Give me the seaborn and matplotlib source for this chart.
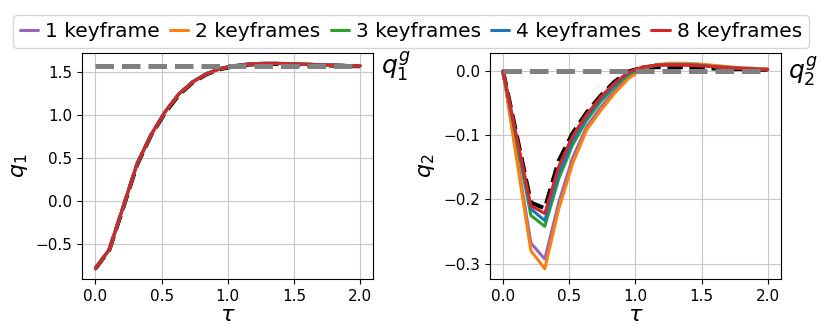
import numpy as np
import pandas as pd
import matplotlib
matplotlib.use('Agg')
import matplotlib.pyplot as plt
import seaborn as sns

# sample grid of the trajectories (20 knots on [0, 2])
tau = np.linspace(0, 2, 20)

labels = ['1 keyframe', '2 keyframes', '3 keyframes', '4 keyframes', '8 keyframes']
colors = ['#9467bd', '#ff7f0e', '#2ca02c', '#1f77b4', '#d62728']

q1_goal = 1.5708
q2_goal = 0.0

# reference trajectory (black dashed)
q1_ref = [-0.785, -0.565, -0.07, 0.43, 0.77, 1.03, 1.24, 1.385, 1.48, 1.54, 1.572, 1.59, 1.598, 1.598,
          1.594, 1.589, 1.584, 1.579, 1.575, 1.572]
q2_ref = [0.0, -0.102, -0.205, -0.214, -0.14, -0.097, -0.065, -0.039, -0.017, -0.001, 0.005, 0.006, 0.006,
          0.006, 0.005, 0.004, 0.003, 0.003, 0.002, 0.002]

# q1 for each keyframe count
q1_k1 = [-0.785, -0.56, -0.06, 0.44, 0.775, 1.04, 1.25, 1.39, 1.485, 1.545, 1.576, 1.594, 1.602, 1.603,
         1.6, 1.594, 1.588, 1.583, 1.579, 1.576]
q1_k2 = [-0.785, -0.56, -0.06, 0.44, 0.775, 1.04, 1.25, 1.39, 1.485, 1.545, 1.577, 1.595, 1.603, 1.604,
         1.601, 1.595, 1.589, 1.584, 1.58, 1.577]
q1_k3 = [-0.785, -0.56, -0.06, 0.44, 0.776, 1.041, 1.251, 1.392, 1.486, 1.546, 1.578, 1.596, 1.604, 1.604,
         1.601, 1.595, 1.589, 1.584, 1.58, 1.577]
q1_k4 = [-0.785, -0.56, -0.058, 0.442, 0.778, 1.043, 1.253, 1.394, 1.488, 1.548, 1.58, 1.598, 1.606, 1.606,
         1.602, 1.596, 1.59, 1.585, 1.58, 1.577]
q1_k8 = [-0.785, -0.56, -0.06, 0.44, 0.775, 1.04, 1.25, 1.39, 1.485, 1.545, 1.577, 1.595, 1.603, 1.603,
         1.6, 1.594, 1.588, 1.583, 1.579, 1.576]

# q2 for each keyframe count
q2_k1 = [0.0, -0.134, -0.268, -0.293, -0.205, -0.135, -0.087, -0.057, -0.031, -0.01, 0.004, 0.009, 0.011,
         0.011, 0.01, 0.008, 0.006, 0.005, 0.004, 0.003]
q2_k2 = [0.0, -0.14, -0.28, -0.308, -0.215, -0.144, -0.092, -0.062, -0.035, -0.012, 0.003, 0.01, 0.012,
         0.012, 0.011, 0.009, 0.007, 0.005, 0.004, 0.003]
q2_k3 = [0.0, -0.112, -0.225, -0.242, -0.168, -0.115, -0.077, -0.048, -0.025, -0.006, 0.005, 0.009, 0.01,
         0.01, 0.009, 0.007, 0.006, 0.004, 0.003, 0.002]
q2_k4 = [0.0, -0.107, -0.215, -0.233, -0.16, -0.108, -0.072, -0.044, -0.022, -0.004, 0.006, 0.009, 0.01,
         0.01, 0.009, 0.007, 0.005, 0.004, 0.003, 0.002]
q2_k8 = [0.0, -0.105, -0.21, -0.222, -0.149, -0.101, -0.068, -0.041, -0.019, -0.002, 0.006, 0.009, 0.009,
         0.009, 0.008, 0.007, 0.005, 0.004, 0.003, 0.002]

q1_runs = [q1_k1, q1_k2, q1_k3, q1_k4, q1_k8]
q2_runs = [q2_k1, q2_k2, q2_k3, q2_k4, q2_k8]

sns.set_style('ticks', rc={'text.color': 'black', 'axes.labelcolor': 'black',
                           'xtick.color': 'black', 'ytick.color': 'black',
                           'axes.edgecolor': 'black',
                           'xtick.major.size': 3.5, 'ytick.major.size': 3.5})
plt.rcParams['font.family'] = ['DejaVu Sans']
plt.rcParams['mathtext.fontset'] = 'dejavusans'

fig, axes = plt.subplots(1, 2, figsize=(8.22, 3.29), dpi=100)
fig.subplots_adjust(left=0.1, right=0.95, bottom=0.152, top=0.839, wspace=0.4)

panels = [(axes[0], q1_ref, q1_runs, q1_goal, '$q_1$', '$q_1^g$'),
          (axes[1], q2_ref, q2_runs, q2_goal, '$q_2$', '$q_2^g$')]

for ax, ref, runs, goal, ylab, glab in panels:
    ax.grid(True, color='#c8c8c8', linewidth=0.8)
    sns.lineplot(x=tau, y=ref, ax=ax, color='black', linewidth=3.0, linestyle='--', zorder=2)
    for vals, lab, c in zip(runs, labels, colors):
        sns.lineplot(x=tau, y=vals, ax=ax, color=c, linewidth=2.2, label=lab, zorder=3)
    sns.lineplot(x=[tau[0], tau[-1]], y=[goal, goal], ax=ax, color='gray', linewidth=3.6,
                 linestyle='--', zorder=4)
    ax.text(2.155, goal, glab, fontsize=18, va='center', ha='left')
    ax.set_xlabel(r'$\tau$', fontsize=16, labelpad=1)
    ax.set_ylabel(ylab, fontsize=16)
    ax.tick_params(labelsize=11)
    ax.set_xticks([0.0, 0.5, 1.0, 1.5, 2.0])
    ax.get_legend().remove()

axes[0].set_yticks([-0.5, 0.0, 0.5, 1.0, 1.5])
axes[1].set_yticks([-0.3, -0.2, -0.1, 0.0])

handles, labs = axes[0].get_legend_handles_labels()
fig.legend(handles, labs, loc='upper center', bbox_to_anchor=(0.5, 0.985), ncol=5, fontsize=14.5,
           handlelength=0.9, handletextpad=0.35, columnspacing=0.5, borderpad=0.35, frameon=True)

plt.savefig('out.png', dpi=100)
